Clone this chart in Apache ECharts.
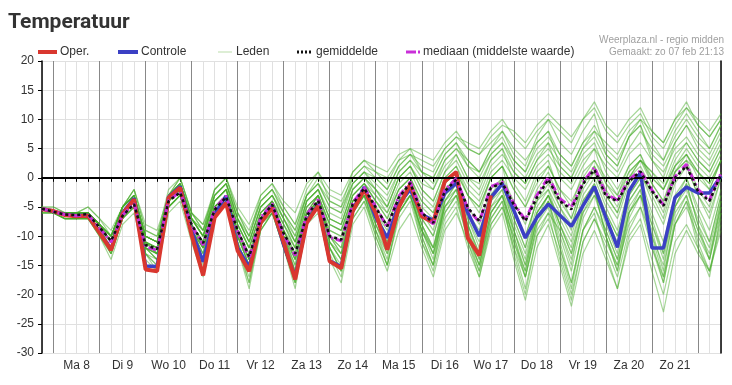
<!DOCTYPE html>
<html><head><meta charset="utf-8">
<script src="https://cdn.jsdelivr.net/npm/echarts@6/dist/echarts.min.js"></script>
<style>html,body{margin:0;padding:0;background:#fff;}#c{width:732px;height:385px;}</style>
</head><body><div id="c"></div>
<script>
// 6-hourly steps: Feb 7 18:00 ... Feb 22 12:00 (60 points)
const dayLabels = ["Ma 8","Di 9","Wo 10","Do 11","Vr 12","Za 13","Zo 14","Ma 15","Di 16","Wo 17","Do 18","Vr 19","Za 20","Zo 21"];
const yTickValues = [-30,-25,-20,-15,-10,-5,0,5,10,15,20];
const legendNames = ["Oper.","Controle","Leden","gemiddelde","mediaan (middelste waarde)"];
const oper = [-5.4,-5.7,-6.4,-6.6,-6.5,-9.4,-12.4,-6.2,-3.7,-15.7,-16.0,-3.4,-1.7,-9.8,-16.7,-6.8,-4.3,-12.5,-16.0,-7.7,-5.1,-11.0,-17.4,-7.7,-4.8,-14.3,-15.5,-5.7,-2.0,-6.0,-12.3,-5.1,-1.1,-6.6,-7.7,-0.6,1.0,-10.3,-13.3,-3.0];
const controle = [-5.3,-5.7,-6.3,-6.5,-6.4,-9.3,-12.2,-6.0,-3.5,-15.1,-15.2,-3.3,-1.5,-9.0,-14.4,-6.2,-3.1,-12.0,-15.3,-7.5,-4.8,-11.5,-17.0,-7.5,-4.6,-14.2,-15.2,-5.5,-1.6,-6.8,-10.3,-4.5,-2.0,-6.3,-7.3,-2.6,-0.9,-6.0,-10.0,-3.4,-1.0,-5.6,-10.3,-6.8,-4.5,-6.4,-8.3,-4.8,-1.5,-6.8,-11.9,-2.3,0.9,-12.0,-12.0,-3.4,-1.6,-2.6,-2.6,0.3];
const gemiddelde = [-5.3,-5.8,-6.3,-6.4,-6.2,-8.5,-10.8,-6.5,-4.5,-11.5,-12.2,-4.0,-2.5,-8.0,-11.2,-5.5,-3.3,-9.0,-13.5,-7.0,-4.6,-9.5,-13.0,-6.5,-3.9,-10.0,-10.6,-4.5,-1.8,-5.1,-8.3,-3.4,-0.9,-6.0,-7.7,-2.3,-0.3,-5.1,-7.4,-1.7,-0.9,-4.6,-7.4,-3.4,-0.3,-4.0,-5.4,-1.1,1.4,-3.1,-4.0,-0.6,1.1,-2.3,-4.8,0.0,2.0,-2.3,-4.0,0.6];
const mediaan = [-5.3,-5.8,-6.3,-6.5,-6.3,-8.6,-11.0,-6.4,-4.4,-11.8,-12.4,-3.9,-2.4,-8.2,-11.5,-5.3,-3.1,-9.2,-13.8,-6.8,-4.4,-9.8,-13.3,-6.3,-3.7,-10.2,-10.8,-4.3,-1.6,-5.0,-8.5,-3.2,-0.7,-6.0,-7.9,-2.1,-0.1,-5.3,-7.6,-1.5,-0.7,-4.4,-7.2,-3.0,0.1,-3.6,-5.0,-0.8,1.8,-2.8,-3.8,-0.3,1.2,-2.1,-4.6,0.2,2.3,-2.0,-3.8,0.8];
const leden01 = [-5,-6,-7,-7,-6,-9,-13,-7,-4,-13,-15,-5,-3,-10,-16,-6,-3,-11,-18,-8,-5,-12,-19,-8,-5,-13,-17,-7,-4,-9,-15,-7,-4,-11,-16,-8,-5,-12,-17,-9,-6,-14,-21,-12,-8,-15,-22,-13,-9,-14,-19,-11,-8,-16,-23,-13,-9,-13,-16,-8];
const leden02 = [-5,-6,-6,-6,-5,-7,-9,-5,-2,-8,-9,-3,-1,-6,-8,-3,-1,-6,-9,-4,-2,-5,-8,-3,0,-3,-4,0,2,1,0,3,4,3,2,5,7,5,4,7,9,8,6,9,11,9,7,10,12,8,6,9,11,7,5,9,12,10,8,11];
const leden03 = [-5,-6,-6,-7,-6,-9,-12,-7,-4,-12,-13,-4,-2,-9,-12,-5,-3,-10,-14,-8,-5,-10,-15,-7,-4,-11,-13,-5,-3,-7,-11,-5,-3,-9,-12,-4,-2,-8,-13,-5,-3,-9,-14,-6,-3,-8,-12,-4,-1,-7,-11,-4,-1,-8,-13,-5,-2,-7,-11,-3];
const leden04 = [-5,-5,-6,-6,-6,-8,-10,-5,-3,-10,-11,-3,-1,-7,-9,-4,-2,-7,-11,-5,-3,-7,-11,-4,-2,-7,-8,-2,0,-3,-5,0,2,-1,-2,2,4,0,-1,3,5,1,-1,3,5,2,0,4,6,1,-2,2,4,0,-2,2,5,2,0,4];
const leden05 = [-6,-6,-7,-7,-7,-10,-13,-7,-5,-13,-16,-5,-3,-10,-14,-6,-4,-12,-17,-9,-6,-12,-18,-8,-6,-14,-18,-8,-5,-11,-16,-9,-6,-12,-17,-9,-6,-11,-16,-8,-5,-12,-19,-10,-7,-13,-20,-11,-7,-11,-15,-8,-5,-12,-17,-8,-5,-10,-14,-6];
const leden06 = [-5,-6,-6,-6,-6,-8,-10,-5,-2,-9,-10,-3,0,-6,-8,-2,0,-5,-8,-3,-1,-4,-6,-1,1,-2,-3,1,3,2,1,4,5,4,3,6,8,5,4,6,8,5,3,6,8,4,2,6,8,6,4,8,10,8,6,10,13,9,7,10];
const leden07 = [-5,-6,-6,-6,-6,-8,-11,-6,-4,-11,-12,-4,-2,-8,-11,-5,-3,-9,-13,-7,-5,-9,-13,-6,-4,-10,-11,-4,-2,-5,-8,-3,-1,-6,-9,-2,0,-6,-9,-3,-1,-6,-10,-4,-1,-5,-8,-2,1,-4,-7,-1,1,-3,-7,0,2,-3,-6,0];
const leden08 = [-5,-6,-7,-7,-7,-9,-12,-6,-4,-12,-14,-4,-2,-9,-13,-5,-3,-11,-16,-8,-5,-11,-17,-7,-5,-12,-16,-6,-3,-9,-14,-5,-2,-10,-15,-4,-1,-9,-14,-4,-1,-7,-12,-3,0,-5,-9,-1,2,-3,-6,0,3,-1,-4,2,4,0,-2,3];
const leden09 = [-5,-6,-6,-6,-6,-8,-11,-5,-3,-11,-12,-3,-1,-7,-10,-3,-1,-7,-10,-4,-2,-6,-9,-3,-1,-5,-6,-1,1,0,-2,2,4,2,1,5,7,6,5,8,10,7,5,8,10,8,6,10,13,9,7,10,12,8,6,10,12,9,7,10];
const leden10 = [-5,-6,-6,-6,-6,-8,-11,-6,-4,-11,-13,-4,-2,-8,-12,-5,-3,-9,-14,-7,-4,-9,-14,-6,-4,-10,-13,-5,-2,-7,-11,-4,-2,-8,-12,-5,-3,-10,-15,-7,-4,-12,-17,-8,-5,-12,-18,-9,-6,-13,-19,-10,-7,-14,-20,-11,-8,-12,-16,-9];
const leden11 = [-5,-6,-6,-7,-6,-9,-12,-6,-4,-12,-13,-5,-3,-9,-12,-6,-4,-10,-15,-8,-6,-10,-14,-6,-3,-8,-9,-3,-1,-4,-7,-2,0,-4,-6,-1,1,-3,-5,0,2,-6,-10,-4,-2,-8,-13,-6,-3,-6,-10,-3,0,-2,-5,1,3,1,-1,3];
const leden12 = [-5,-5,-6,-6,-5,-7,-10,-5,-3,-10,-11,-3,-1,-7,-10,-4,-2,-8,-12,-6,-4,-8,-12,-5,-3,-8,-9,-3,-1,-3,-6,-1,1,-3,-5,0,2,-2,-4,1,3,0,-2,2,4,1,-1,3,5,2,0,4,6,3,1,5,7,4,2,6];
const leden13 = [-6,-6,-7,-7,-7,-10,-14,-8,-6,-14,-16,-6,-4,-11,-17,-7,-4,-12,-19,-9,-6,-12,-18,-8,-5,-12,-16,-7,-4,-10,-15,-6,-3,-9,-14,-5,-2,-10,-16,-7,-4,-13,-20,-10,-6,-14,-21,-11,-7,-12,-17,-9,-5,-10,-15,-6,-3,-9,-14,-5];
const leden14 = [-5,-6,-6,-6,-6,-8,-10,-5,-3,-10,-11,-3,-1,-7,-9,-3,-1,-7,-11,-5,-3,-7,-10,-4,-2,-6,-7,-1,1,-2,-4,1,3,0,-2,3,5,2,0,4,6,3,1,5,7,4,2,6,9,5,3,7,9,4,2,6,9,6,4,8];
const leden15 = [-5,-6,-6,-7,-6,-9,-12,-6,-4,-12,-14,-4,-2,-9,-13,-4,-2,-10,-15,-7,-4,-10,-16,-6,-3,-11,-14,-4,-2,-8,-12,-4,-1,-8,-12,-3,0,-7,-12,-3,0,-9,-15,-6,-3,-9,-15,-5,-2,-10,-16,-6,-3,-9,-16,-5,-1,-8,-14,-4];
const leden16 = [-5,-6,-6,-6,-6,-8,-11,-6,-3,-11,-12,-4,-2,-8,-11,-4,-2,-8,-12,-6,-4,-8,-12,-5,-3,-9,-10,-3,-1,-4,-7,-2,0,-5,-7,-1,1,-3,-6,0,2,-2,-5,0,2,-2,-5,1,3,0,-3,2,4,-1,-4,1,4,1,-2,3];
const leden17 = [-5,-6,-6,-7,-6,-9,-12,-6,-4,-12,-13,-4,-2,-9,-12,-5,-3,-10,-15,-7,-5,-10,-15,-7,-4,-11,-14,-6,-3,-9,-13,-6,-3,-11,-15,-7,-4,-10,-15,-6,-3,-11,-17,-8,-4,-10,-16,-7,-3,-9,-14,-6,-2,-10,-17,-7,-3,-11,-16,-7];
const leden18 = [-5,-6,-6,-6,-6,-8,-10,-5,-3,-10,-11,-3,0,-6,-9,-2,0,-6,-10,-3,-1,-5,-8,-2,1,-4,-5,1,3,1,-1,3,5,1,0,4,6,2,1,5,8,4,2,7,10,6,4,8,11,4,2,7,10,6,3,8,11,8,5,9];
const leden19 = [-5,-6,-6,-6,-6,-8,-11,-6,-4,-11,-13,-4,-2,-8,-11,-5,-3,-9,-14,-7,-5,-9,-13,-6,-4,-10,-12,-4,-2,-6,-9,-4,-2,-7,-10,-3,-1,-7,-11,-4,-2,-8,-13,-6,-3,-7,-11,-4,-1,-6,-10,-3,0,-6,-11,-3,0,-5,-9,-2];
const leden20 = [-5,-6,-6,-6,-6,-8,-10,-5,-3,-10,-11,-3,-1,-7,-10,-3,-1,-7,-11,-5,-3,-6,-10,-3,-1,-4,-5,-1,1,-1,-3,1,3,1,-1,3,5,3,1,4,6,2,0,4,6,3,1,5,7,3,1,5,8,5,3,7,10,7,5,9];
const leden21 = [-6,-6,-7,-7,-7,-10,-13,-7,-5,-13,-15,-5,-3,-10,-15,-6,-3,-12,-18,-9,-6,-12,-18,-8,-5,-12,-16,-6,-3,-10,-15,-6,-3,-10,-15,-6,-3,-11,-17,-8,-5,-10,-16,-7,-4,-11,-18,-9,-5,-10,-15,-6,-3,-12,-18,-8,-4,-12,-17,-6];
const leden22 = [-5,-6,-6,-6,-6,-8,-11,-6,-4,-11,-12,-4,-1,-7,-10,-4,-2,-8,-12,-6,-4,-7,-11,-4,-2,-7,-8,-2,0,-2,-5,0,2,-2,-4,1,3,-1,-3,2,4,1,-1,3,6,0,-2,2,5,-1,-4,1,3,1,-1,4,6,3,1,5];
const leden23 = [-5,-6,-6,-6,-6,-9,-11,-6,-4,-11,-13,-4,-2,-8,-12,-5,-3,-10,-14,-7,-5,-9,-14,-6,-4,-10,-12,-4,-2,-6,-10,-4,-2,-7,-10,-3,-1,-6,-10,-3,-1,-7,-12,-5,-2,-6,-10,-3,0,-5,-9,-2,1,-4,-8,-1,2,-3,-7,0];
const leden24 = [-5,-6,-6,-6,-6,-8,-10,-5,-3,-10,-11,-3,-1,-7,-10,-4,-2,-8,-12,-6,-4,-8,-11,-5,-3,-8,-9,-3,-1,-4,-6,-2,0,-4,-6,0,2,-3,-5,0,2,-2,-5,-1,2,-2,-4,0,3,-1,-3,1,3,0,-2,2,4,1,-1,3];
const leden25 = [-5,-6,-7,-7,-7,-9,-12,-7,-5,-12,-14,-5,-3,-9,-13,-6,-4,-10,-15,-8,-5,-10,-16,-7,-4,-11,-14,-5,-2,-8,-12,-5,-2,-9,-13,-4,-1,-8,-13,-5,-2,-10,-17,-9,-6,-9,-14,-6,-2,-8,-13,-4,-1,-7,-13,-4,0,-6,-11,-3];
const leden26 = [-5,-6,-6,-6,-6,-8,-10,-5,-3,-10,-11,-3,-1,-7,-10,-3,-1,-7,-11,-5,-3,-7,-11,-4,-2,-7,-8,-2,0,-2,-5,0,2,-2,-4,1,4,0,-2,3,5,-1,-4,1,3,-3,-7,-1,2,-2,-5,0,3,1,-2,3,6,3,1,5];
const leden27 = [-5,-6,-6,-7,-6,-9,-12,-6,-4,-12,-13,-4,-2,-9,-12,-5,-3,-9,-14,-7,-4,-10,-14,-6,-3,-10,-13,-4,-2,-7,-12,-5,-2,-8,-13,-5,-2,-9,-15,-6,-3,-11,-16,-7,-4,-12,-19,-9,-5,-9,-14,-5,-2,-11,-18,-8,-4,-9,-13,-5];
const leden28 = [-5,-6,-6,-6,-6,-8,-11,-6,-4,-11,-12,-4,-2,-8,-11,-5,-3,-9,-13,-7,-5,-9,-12,-6,-4,-9,-10,-4,-2,-5,-8,-3,-1,-6,-8,-2,0,-5,-8,-2,0,-4,-8,-2,1,-4,-7,-1,1,-3,-6,0,2,-2,-6,1,3,-2,-5,1];
const leden29 = [-5,-6,-6,-6,-6,-8,-10,-5,-2,-9,-10,-2,0,-6,-9,-2,0,-6,-10,-4,-2,-6,-9,-3,-1,-5,-6,0,2,0,-2,2,4,1,0,4,6,3,1,5,7,3,1,6,8,2,0,5,8,4,2,7,9,3,0,6,9,5,3,7];
const leden30 = [-6,-6,-7,-7,-7,-9,-13,-7,-5,-13,-14,-5,-3,-10,-14,-6,-4,-11,-16,-8,-6,-11,-16,-7,-5,-12,-15,-6,-3,-8,-13,-6,-3,-9,-13,-6,-3,-8,-14,-6,-3,-9,-15,-7,-3,-8,-13,-5,-2,-10,-16,-7,-3,-8,-14,-5,-1,-8,-12,-4];
const leden = [leden01,leden02,leden03,leden04,leden05,leden06,leden07,leden08,leden09,leden10,leden11,leden12,leden13,leden14,leden15,leden16,leden17,leden18,leden19,leden20,leden21,leden22,leden23,leden24,leden25,leden26,leden27,leden28,leden29,leden30];

const categories = [];
for (let i = 0; i < 60; i++) categories.push(i % 4 === 3 ? (dayLabels[(i - 3) / 4] || '') : '');

const FONT = '"Liberation Sans", Arial, sans-serif';
const GREEN = 'rgba(70,172,40,0.48)';
const RED = '#d9372f', BLUE = '#3b40c4', MAGENTA = '#c92fd8', BLACK = '#111';
const series = leden.map(d => ({
  name: legendNames[2], type: 'line', data: d, symbol: 'none', silent: true, z: 1,
  lineStyle: { width: 1.2, color: GREEN }, itemStyle: { color: GREEN }
}));
series.push({
  name: legendNames[1], type: 'line', data: controle, symbol: 'none', z: 3,
  lineStyle: { width: 3.5, color: BLUE }, itemStyle: { color: BLUE },
  markLine: { silent: true, symbol: ['none','none'], label: { show: false },
    lineStyle: { color: '#000', width: 2, type: 'solid' }, data: [{ yAxis: 0 }] }
});
series.push({
  name: legendNames[0], type: 'line', data: oper, symbol: 'none', z: 4,
  lineStyle: { width: 4, color: RED }, itemStyle: { color: RED }
});
series.push({
  name: legendNames[4], type: 'line', data: mediaan, symbol: 'none', z: 5,
  lineStyle: { width: 3, color: MAGENTA, type: [8, 3, 2, 3] }, itemStyle: { color: MAGENTA }
});
series.push({
  name: legendNames[3], type: 'line', data: gemiddelde, symbol: 'none', z: 6,
  lineStyle: { width: 2.5, color: BLACK, type: [3, 3] }, itemStyle: { color: BLACK }
});

// hand-placed legend (line samples + real text)
const LY = 52;
function seg(x1, x2, stroke, w, dash) {
  return { type: 'line', shape: { x1: x1, y1: LY, x2: x2, y2: LY }, silent: true,
    style: { stroke: stroke, lineWidth: w, lineDash: dash || null } };
}
function txt(x, s) {
  return { type: 'text', x: x, y: LY, silent: true,
    style: { text: s, fill: '#333', font: '12px ' + FONT, textVerticalAlign: 'middle', textAlign: 'left' } };
}
const legendGraphics = [
  seg(38, 57, RED, 4), txt(60, legendNames[0]),
  seg(118, 138, BLUE, 4), txt(141, legendNames[1]),
  seg(218, 232, 'rgba(120,190,90,0.5)', 1), txt(236, legendNames[2]),
  seg(297, 312, BLACK, 3, [2, 2]), txt(316, legendNames[3]),
  seg(406, 416, MAGENTA, 3), seg(418, 420, MAGENTA, 3), txt(423, legendNames[4])
];

const chart = echarts.init(document.getElementById('c'), null, { renderer: 'canvas' });
chart.setOption({
  animation: false,
  backgroundColor: '#fff',
  title: { text: 'Temperatuur', left: 8, top: 12, padding: 0,
    textStyle: { fontSize: 21, fontWeight: 'bold', color: '#333', fontFamily: 'Roboto, "Liberation Sans", sans-serif' } },
  graphic: legendGraphics.concat([
    { type: 'text', right: 8, top: 35, style: { text: 'Weerplaza.nl - regio midden', fill: '#a0a0a0', font: '10px ' + FONT } },
    { type: 'text', right: 8, top: 47, style: { text: 'Gemaakt: zo 07 feb 21:13', fill: '#a0a0a0', font: '10px ' + FONT } }
  ]),
  grid: { left: 42, right: 11, top: 61, bottom: 32, outerBoundsMode: 'none' },
  xAxis: [
    { type: 'category', data: categories, boundaryGap: false, position: 'bottom',
      axisLine: { show: true, lineStyle: { color: '#000', width: 1.5 } },
      axisTick: { show: true, interval: 0, length: 4, lineStyle: { color: '#000' } },
      axisLabel: { interval: function (i) { return i % 4 === 3; }, margin: 7, fontSize: 12, color: '#333', fontFamily: FONT },
      splitLine: { show: true, interval: 0, lineStyle: { color: '#e0e0e0', width: 1 } } },
    { type: 'category', data: categories, boundaryGap: false, position: 'top',
      axisLine: { show: true, lineStyle: { color: '#aaa', width: 1 } },
      axisTick: { show: false }, axisLabel: { show: false },
      splitLine: { show: true, interval: function (i) { return i % 4 === 1; }, lineStyle: { color: '#888', width: 1 } } }
  ],
  yAxis: [
    { type: 'value', min: yTickValues[0], max: yTickValues[yTickValues.length - 1], interval: 5,
      axisLine: { show: true, lineStyle: { color: '#000', width: 1.5 } },
      axisTick: { show: true, length: 4, lineStyle: { color: '#000' } },
      axisLabel: { margin: 8, fontSize: 12, color: '#333', fontFamily: FONT },
      splitLine: { show: true, lineStyle: { color: '#e0e0e0', width: 1 } } },
    { type: 'value', min: -30, max: 20, interval: 5, position: 'right',
      axisLine: { show: true, lineStyle: { color: '#000', width: 1.5 } },
      axisTick: { show: false }, axisLabel: { show: false }, splitLine: { show: false } }
  ],
  series: series
});
</script>
</body></html>
